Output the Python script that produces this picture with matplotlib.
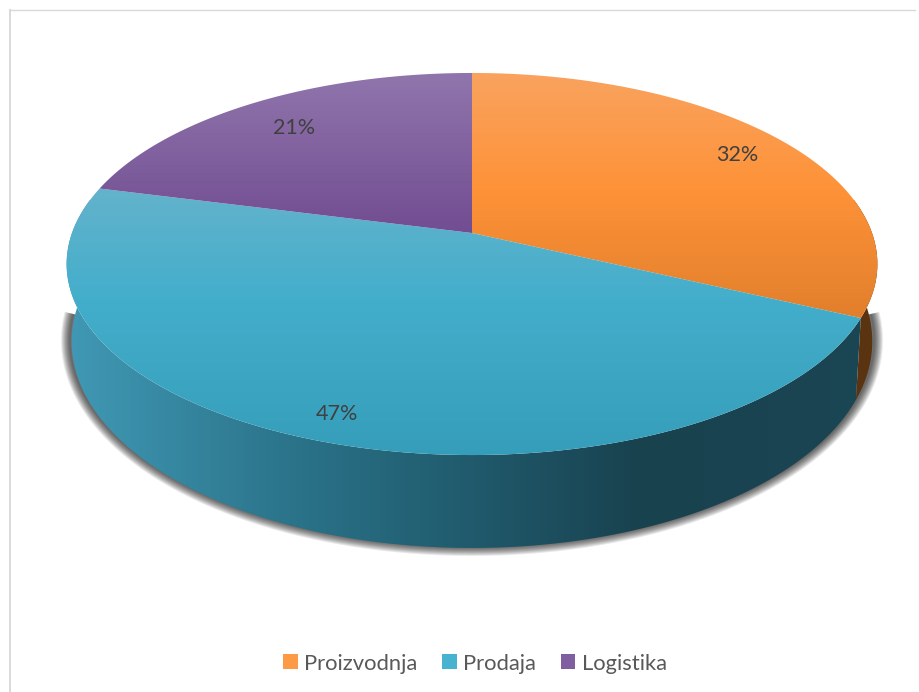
import numpy as np
import matplotlib
matplotlib.use("Agg")
import matplotlib.pyplot as plt
from matplotlib.patches import Patch, Polygon
from matplotlib.colors import LinearSegmentedColormap

plt.rcParams['font.family'] = ['Lato', 'DejaVu Sans']

categories = ['Proizvodnja', 'Prodaja', 'Logistika']
shares = [32, 47, 21]

# top face gradients, light to dark going down the picture
top_colors = [
    [(70, '#f9a360'), (190, '#fe9238'), (325, '#e07e2b')],
    [(180, '#66b3cc'), (300, '#43aecb'), (460, '#359db9')],
    [(70, '#9176ad'), (240, '#704b90')],
]
# side wall colours, left to right in pixels
side_colors = [
    [(470, '#6a3c12'), (900, '#593310')],
    [(40, '#429bb8'), (70, '#4098b4'), (300, '#2a7288'), (472, '#205a6c'),
     (640, '#19424f'), (900, '#1b4653')],
]
legend_colors = ['#fd9a45', '#48b3d1', '#7f5fa0']
label_pos = [(737, 155), (337, 414), (294, 128)]


def top_rim(t):
    # t is clockwise angle from 12 o'clock, the disc is seen in perspective
    x, y = np.sin(t), np.cos(t)
    w = 1 + 0.1623 * y
    return 472 + 400 * x / w, 233 - 186 * y / w


def low_rim(t):
    x, y = np.sin(t), np.cos(t)
    w = 1 + 0.1623 * y
    return 472 + 395 * x / w, 308 - 201 * y / w


def gradient_fill(ax, px, py, stops, vertical, zorder):
    lo, hi = stops[0][0], stops[-1][0]
    cmap = LinearSegmentedColormap.from_list(
        'g', [((s[0] - lo) / (hi - lo), s[1]) for s in stops])
    grad = np.linspace(0, 1, 256)
    if vertical:
        im = ax.imshow(grad.reshape(-1, 1), cmap=cmap, extent=[40, 900, hi, lo],
                       aspect='auto', interpolation='bilinear', origin='upper', zorder=zorder)
    else:
        im = ax.imshow(grad.reshape(1, -1), cmap=cmap, extent=[lo, hi, 600, 200],
                       aspect='auto', interpolation='bilinear', origin='upper', zorder=zorder)
    patch = Polygon(np.c_[px, py], closed=True, transform=ax.transData,
                    facecolor='none', edgecolor='none')
    ax.add_patch(patch)
    im.set_clip_path(patch)


fig = plt.figure(figsize=(9.2, 6.92), dpi=100)
ax = fig.add_axes([0, 0, 1, 1])
ax.axis('off')

# chart frame
ax.plot([10, 10], [10, 692], color='#d9d9d9', lw=1.4)
ax.plot([10, 915], [10, 10], color='#d9d9d9', lw=1.0)

# soft shadow below the wall
t = np.linspace(np.radians(92), np.radians(268), 300)
sx, sy = low_rim(t)
sx = 472 + (sx - 472) * 1.004
sy = sy - 1
for lw in np.arange(18, 0, -2):
    ax.plot(sx, sy, color='black', lw=lw * 0.72, alpha=0.09,
            solid_capstyle='butt', zorder=1)

edges = np.cumsum([0] + shares) / sum(shares) * 2 * np.pi

# side walls: the end of the first slice and the front of the second
wall_ranges = [(np.radians(70), edges[1]), (edges[1], np.radians(290))]
for (a, b), stops in zip(wall_ranges, side_colors):
    tt = np.linspace(a, b, 200)
    x1, y1 = top_rim(tt)
    x2, y2 = low_rim(tt[::-1])
    gradient_fill(ax, np.r_[x1, x2], np.r_[y1, y2], stops, False, 2)

# top face, one gradient per slice
for i in range(len(shares)):
    tt = np.linspace(edges[i], edges[i + 1], 200)
    rx, ry = top_rim(tt)
    gradient_fill(ax, np.r_[472, rx], np.r_[233, ry], top_colors[i], True, 3)

for v, (x, y) in zip(shares, label_pos):
    ax.text(x, y, '%d%%' % v, ha='center', va='center', fontsize=15.5, color='#404040', zorder=5)

handles = [Patch(facecolor=c, edgecolor='none') for c in legend_colors]
leg = ax.legend(handles, categories, loc='center', bbox_to_anchor=(475 / 920, 1 - 663.5 / 692),
                ncol=3, frameon=False, fontsize=15.8, labelcolor='#595959',
                handlelength=0.66, handleheight=0.66, handletextpad=0.3, columnspacing=1.12)

ax.set_xlim(0, 920)
ax.set_ylim(692, 0)

fig.savefig('out.png', dpi=100)
